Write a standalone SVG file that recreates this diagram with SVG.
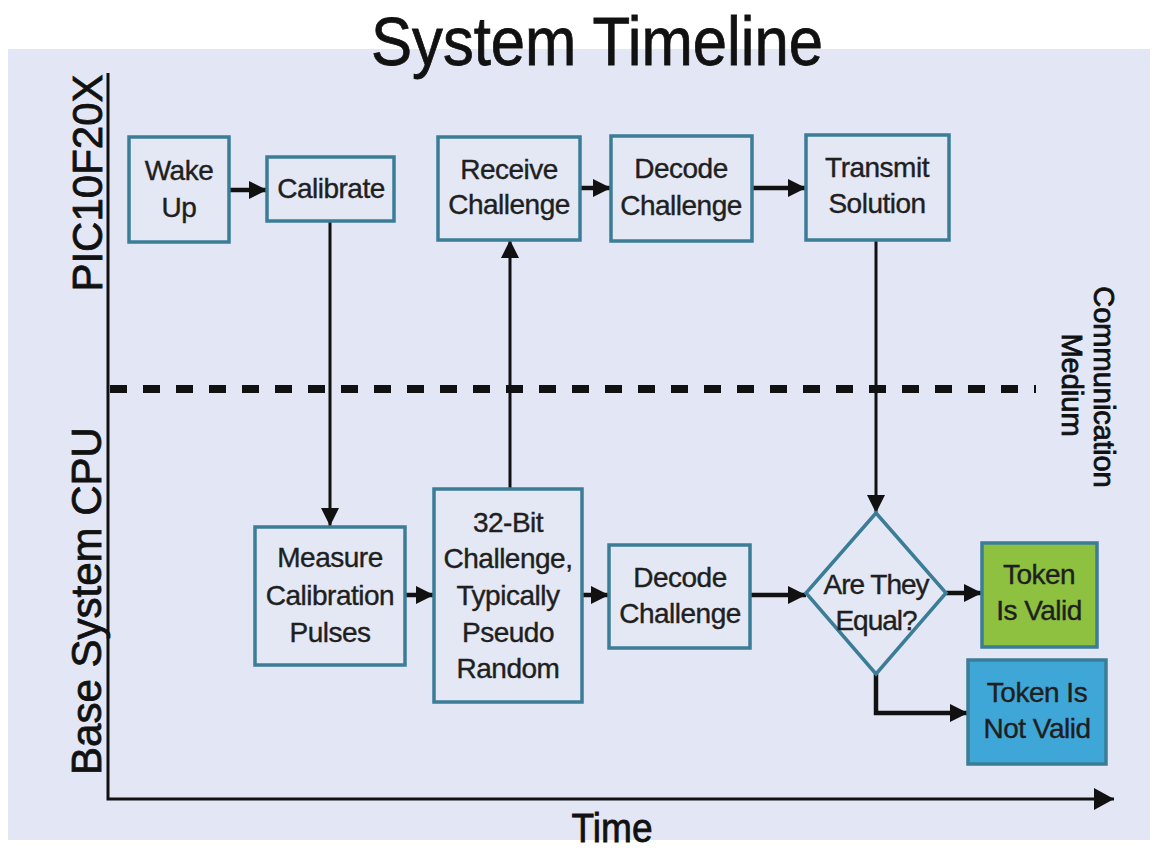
<svg xmlns="http://www.w3.org/2000/svg" width="1164" height="850" viewBox="0 0 1164 850">
<defs>
<style>
.box{fill:#e4e8f5;stroke:#3b7d96;stroke-width:3.5}
.t{font-family:"Liberation Sans",Arial,sans-serif;font-size:28px;fill:#1f1f1f;stroke:#1f1f1f;stroke-width:0.4;text-anchor:middle;letter-spacing:-0.5px}
.lbl{font-family:"Liberation Sans",Arial,sans-serif;fill:#111;stroke:#111;stroke-width:0.8;text-anchor:middle}
.c{fill:none;stroke:#111}
.h{stroke-width:4.5}
.v{stroke-width:3}
</style>
<marker id="ah" markerUnits="userSpaceOnUse" markerWidth="20" markerHeight="20" refX="18" refY="9" orient="auto">
<path d="M0,0 L18,9 L0,18 z" fill="#111"/>
</marker>
<marker id="ax" markerUnits="userSpaceOnUse" markerWidth="22" markerHeight="24" refX="20" refY="11" orient="auto">
<path d="M0,0 L20,11 L0,22 z" fill="#111"/>
</marker>
</defs>
<rect x="0" y="0" width="1164" height="850" fill="#ffffff"/>
<rect x="8" y="49" width="1142" height="791" fill="#e3e7f5"/>

<g id="axes">
<path class="c" d="M108,73 L108,799 L1114,799" stroke-width="3" marker-end="url(#ax)"/>
<line x1="110" y1="389" x2="1036" y2="389" stroke="#111" stroke-width="8" stroke-dasharray="17 16"/>
</g>

<g id="labels">
<text class="lbl" x="597" y="65" font-size="68" stroke-width="1.4" textLength="452" lengthAdjust="spacingAndGlyphs">System Timeline</text>
<text class="lbl" font-size="42" transform="translate(102,183) rotate(-90)">PIC10F20X</text>
<text class="lbl" font-size="42" transform="translate(101,601) rotate(-90)">Base System CPU</text>
<text class="lbl" font-size="29" stroke-width="0.5" transform="translate(1094,387) rotate(90)">Communication</text>
<text class="lbl" font-size="29" stroke-width="0.5" transform="translate(1062,385) rotate(90)">Medium</text>
<text class="lbl" x="612" y="842" font-size="40" stroke-width="1" textLength="81" lengthAdjust="spacingAndGlyphs">Time</text>
</g>

<g id="connectors">
<line class="c h" x1="229" y1="190" x2="267" y2="190" marker-end="url(#ah)"/>
<line class="c h" x1="580" y1="188" x2="611" y2="188" marker-end="url(#ah)"/>
<line class="c h" x1="752" y1="188" x2="806" y2="188" marker-end="url(#ah)"/>
<line class="c v" x1="330" y1="221" x2="330" y2="526" marker-end="url(#ah)"/>
<line class="c v" x1="510" y1="489" x2="510" y2="240" marker-end="url(#ah)"/>
<line class="c v" x1="876" y1="240" x2="876" y2="513" marker-end="url(#ah)"/>
<line class="c h" x1="405" y1="595" x2="434" y2="595" marker-end="url(#ah)"/>
<line class="c h" x1="582" y1="595" x2="609" y2="595" marker-end="url(#ah)"/>
<line class="c h" x1="750" y1="595" x2="806" y2="595" marker-end="url(#ah)"/>
<line class="c h" x1="946" y1="593" x2="982" y2="593" marker-end="url(#ah)"/>
<path class="c h" d="M876,674 L876,713 L968,713" marker-end="url(#ah)"/>
</g>

<g id="wake-up">
<rect class="box" x="129" y="137" width="100" height="105"/>
<text class="t" x="179" y="180">Wake</text>
<text class="t" x="179" y="217">Up</text>
</g>
<g id="calibrate">
<rect class="box" x="267" y="157" width="127" height="64"/>
<text class="t" x="331" y="198">Calibrate</text>
</g>
<g id="receive-challenge">
<rect class="box" x="438" y="137" width="142" height="103"/>
<text class="t" x="509" y="179">Receive</text>
<text class="t" x="509" y="214">Challenge</text>
</g>
<g id="decode-challenge-top">
<rect class="box" x="611" y="136" width="141" height="105"/>
<text class="t" x="681" y="178">Decode</text>
<text class="t" x="681" y="215">Challenge</text>
</g>
<g id="transmit-solution">
<rect class="box" x="806" y="135" width="143" height="105"/>
<text class="t" x="877" y="177">Transmit</text>
<text class="t" x="877" y="213">Solution</text>
</g>
<g id="measure">
<rect class="box" x="255" y="527" width="150" height="138"/>
<text class="t" x="330" y="567">Measure</text>
<text class="t" x="330" y="605">Calibration</text>
<text class="t" x="330" y="642">Pulses</text>
</g>
<g id="challenge-32bit">
<rect class="box" x="434" y="489" width="148" height="213"/>
<text class="t" x="508" y="532">32-Bit</text>
<text class="t" x="508" y="568">Challenge,</text>
<text class="t" x="508" y="605">Typically</text>
<text class="t" x="508" y="642">Pseudo</text>
<text class="t" x="508" y="678">Random</text>
</g>
<g id="decode-challenge-bottom">
<rect class="box" x="609" y="545" width="141" height="103"/>
<text class="t" x="680" y="587">Decode</text>
<text class="t" x="680" y="623">Challenge</text>
</g>
<g id="are-they-equal">
<polygon class="box" points="876,513 946,593 876,674 806,593"/>
<text class="t" x="876" y="594" style="letter-spacing:-1px">Are They</text>
<text class="t" x="876" y="630" style="letter-spacing:-1px">Equal?</text>
</g>
<g id="token-valid">
<rect class="box" x="982" y="543" width="115" height="104" style="fill:#8dc13f"/>
<text class="t" x="1039" y="584">Token</text>
<text class="t" x="1039" y="620">Is Valid</text>
</g>
<g id="token-not-valid">
<rect class="box" x="968" y="660" width="138" height="104" style="fill:#3fa7d7"/>
<text class="t" x="1037" y="702">Token Is</text>
<text class="t" x="1037" y="738">Not Valid</text>
</g>
</svg>
